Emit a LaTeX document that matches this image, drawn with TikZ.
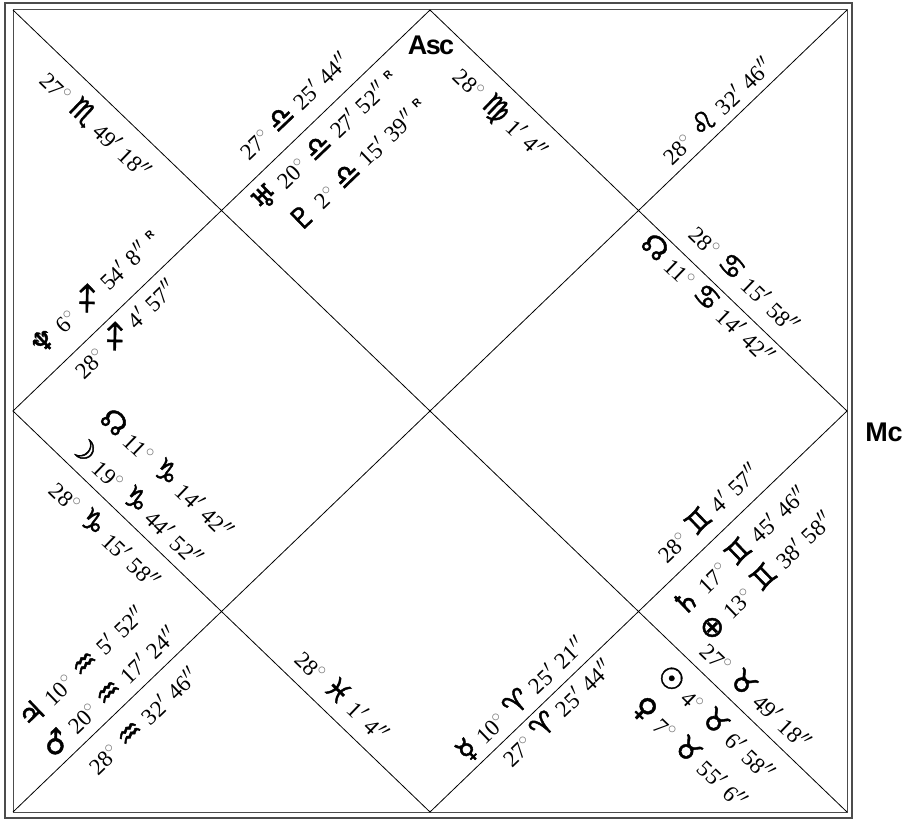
\documentclass[tikz,border=0pt]{standalone}
\usepackage{fontspec}
\setmainfont{Liberation Serif}
\newfontfamily\symf[FakeBold=1.5]{DejaVu Sans}
\newfontfamily\hvf{Liberation Sans}
\newcommand{\dg}{\textcolor{black!55}{$^{\circ}$}}
\newcommand{\mi}{$^{\prime}$}
\newcommand{\se}{$^{\prime\prime}$}
\newcommand{\Z}[1]{{\symf\fontsize{29}{29}\selectfont #1}}
\newcommand{\Rt}{\textsuperscript{\hvf\bfseries\fontsize{11}{11}\selectfont R}}
\newcommand{\sk}{\hspace{0.32em}}
\tikzset{
  lbl/.style={inner sep=0pt, font=\fontsize{23}{25}\selectfont},
  up/.style={lbl, rotate=43.88},
  dn/.style={lbl, rotate=-43.88},
  hdr/.style={inner sep=0pt, font=\hvf\bfseries\fontsize{27}{27}\selectfont},
  frame/.style={draw=black!70, line width=1.3pt},
  chartline/.style={draw=black, line width=0.8pt}
}
\begin{document}
\begin{tikzpicture}[x=1pt,y=-1pt]
\useasboundingbox (0,0) rectangle (906,821);
\fill[white] (0,0) rectangle (906,821);
% corners and midpoints
\coordinate (A) at (13,10);
\coordinate (B) at (847,10);
\coordinate (C) at (847,812);
\coordinate (D) at (13,812);
\coordinate (T) at (430,10);
\coordinate (R) at (847,411);
\coordinate (M) at (430,812);
\coordinate (L) at (13,411);
\draw[frame] (5,3) rectangle (852,818);
\draw[frame, line width=1pt] (A) rectangle (C);
\draw[chartline] (A) -- (C);
\draw[chartline] (B) -- (D);
\draw[chartline] (T) -- (R) -- (M) -- (L) -- cycle;
% labels
\node[hdr] (asc) at (431,45) {\addfontfeature{LetterSpace=-6}Asc};
\node[hdr] (mc) at (884,432) {Mc};
\node[dn] (n1) at (96,125) {27\dg\sk\Z{♏}\sk 49\mi\sk 18\se};
\node[up] (n2) at (294,106) {27\dg\sk\Z{♎}\sk 25\mi\sk 44\se};
\node[up] (n3) at (324,140) {\Z{♅}\sk 20\dg\sk\Z{♎}\sk 27\mi\sk 52\se\sk\Rt};
\node[up] (n4) at (357,164) {\Z{♇}\sk 2\dg\sk\Z{♎}\sk 15\mi\sk 39\se\sk\Rt};
\node[dn] (n6) at (500,114) {28\dg\sk\Z{♍}\sk 1\mi\sk 4\se};
\node[up] (n7) at (716,110) {28\dg\sk\Z{♌}\sk 32\mi\sk 46\se};
\node[dn] (n8) at (745,279) {28\dg\sk\Z{♋}\sk 15\mi\sk 58\se};
\node[dn] (n9) at (709,298) {\Z{☊}\sk 11\dg\sk\Z{♋}\sk 14\mi\sk 42\se};
\node[up] (n10) at (707,512) {28\dg\sk\Z{♊}\sk 4\mi\sk 57\se};
\node[up] (n11) at (739,550) {\Z{♄}\sk 17\dg\sk\Z{♊}\sk 45\mi\sk 46\se};
\node[up] (n12) at (765,575) {\Z{⊕}\sk 13\dg\sk\Z{♊}\sk 38\mi\sk 58\se};
\node[dn] (n13) at (757,695) {27\dg\sk\Z{♉}\sk 49\mi\sk 18\se};
\node[dn] (n14) at (717,722) {\Z{☉}\sk 4\dg\sk\Z{♉}\sk 6\mi\sk 58\se};
\node[dn] (n15) at (690,753) {\Z{♀}\sk 7\dg\sk\Z{♉}\sk 55\mi\sk 6\se};
\node[up] (n16) at (521,699) {\Z{☿}\sk 10\dg\sk\Z{♈}\sk 25\mi\sk 21\se};
\node[up] (n17) at (556,712) {27\dg\sk\Z{♈}\sk 25\mi\sk 44\se};
\node[dn] (n18) at (343,695) {28\dg\sk\Z{♓}\sk 1\mi\sk 4\se};
\node[up] (n19) at (81,666) {\Z{♃}\sk 10\dg\sk\Z{♒}\sk 5\mi\sk 52\se};
\node[up] (n20) at (109,691) {\Z{♂}\sk 20\dg\sk\Z{♒}\sk 17\mi\sk 24\se};
\node[up] (n21) at (143,721) {28\dg\sk\Z{♒}\sk 32\mi\sk 46\se};
\node[up] (n22) at (94,292) {\Z{♆}\sk 6\dg\sk\Z{♐}\sk 54\mi\sk 8\se\sk\Rt};
\node[up] (n23) at (124,328) {28\dg\sk\Z{♐}\sk 4\mi\sk 57\se};
\node[dn] (n24) at (168,473) {\Z{☊}\sk 11\dg\sk\Z{♑}\sk 14\mi\sk 42\se};
\node[dn] (n25) at (137,500) {\Z{☽}\sk 19\dg\sk\Z{♑}\sk 44\mi\sk 52\se};
\node[dn] (n26) at (106,534) {28\dg\sk\Z{♑}\sk 15\mi\sk 58\se};
\end{tikzpicture}
\end{document}
